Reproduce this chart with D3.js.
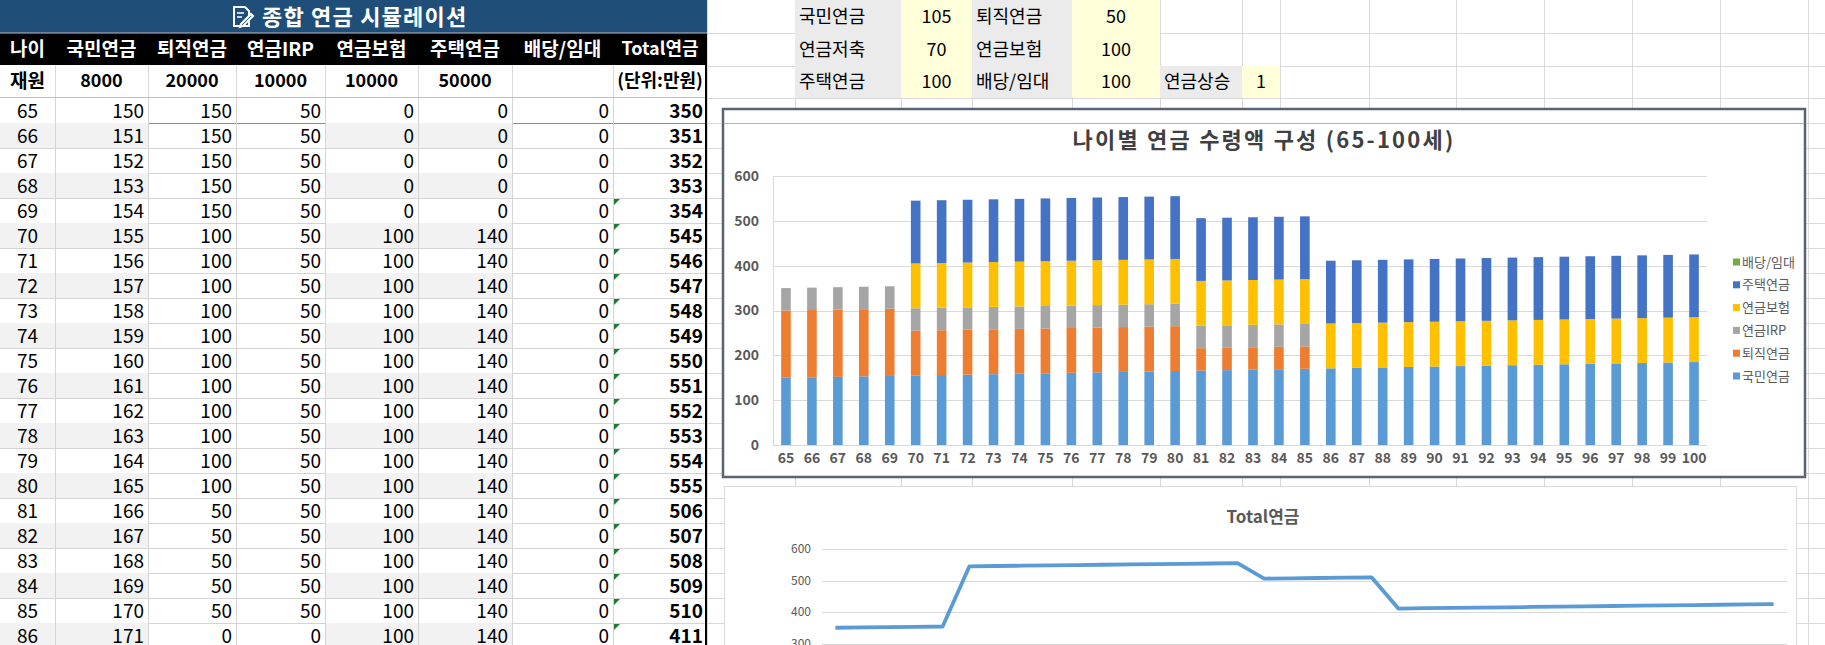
<!DOCTYPE html>
<html>
<head>
<meta charset="utf-8">
<script src="https://cdn.jsdelivr.net/npm/d3@7"></script>
<style>
  body { margin: 0; background: #fff; }
  svg { display: block; font-family: "Noto Sans CJK KR", "Noto Sans", sans-serif; }
</style>
</head>
<body>
<div class="sheet"></div>
<script>
// ---- data ----
const ages     = [65,66,67,68,69,70,71,72,73,74,75,76,77,78,79,80,81,82,83,84,85,86,87,88,89,90,91,92,93,94,95,96,97,98,99,100];
const gukmin   = [150,151,152,153,154,155,156,157,158,159,160,161,162,163,164,165,166,167,168,169,170,171,172,173,174,175,176,177,178,179,180,181,182,183,184,185];
const toejik   = [150,150,150,150,150,100,100,100,100,100,100,100,100,100,100,100,50,50,50,50,50,0,0,0,0,0,0,0,0,0,0,0,0,0,0,0];
const irp      = [50,50,50,50,50,50,50,50,50,50,50,50,50,50,50,50,50,50,50,50,50,0,0,0,0,0,0,0,0,0,0,0,0,0,0,0];
const bohum    = [0,0,0,0,0,100,100,100,100,100,100,100,100,100,100,100,100,100,100,100,100,100,100,100,100,100,100,100,100,100,100,100,100,100,100,100];
const jutaek   = [0,0,0,0,0,140,140,140,140,140,140,140,140,140,140,140,140,140,140,140,140,140,140,140,140,140,140,140,140,140,140,140,140,140,140,140];
const baedang  = [0,0,0,0,0,0,0,0,0,0,0,0,0,0,0,0,0,0,0,0,0,0,0,0,0,0,0,0,0,0,0,0,0,0,0,0];
const total    = [350,351,352,353,354,545,546,547,548,549,550,551,552,553,554,555,506,507,508,509,510,411,412,413,414,415,416,417,418,419,420,421,422,423,424,425];

const headers  = ["나이","국민연금","퇴직연금","연금IRP","연금보험","주택연금","배당/임대","Total연금"];
const funds    = ["재원","8000","20000","10000","10000","50000","","(단위:만원)"];
const seriesKeys = ["국민연금","퇴직연금","연금IRP","연금보험","주택연금","배당/임대"];
const seriesCols = ["#5B9BD5","#ED7D31","#A5A5A5","#FFC000","#4472C4","#70AD47"];
const yTicks   = [0,100,200,300,400,500,600];
const lineTicks = [0,100,200,300,400,500,600];
const params   = [
  [["국민연금",105],["퇴직연금",50]],
  [["연금저축",70],["연금보험",100]],
  [["주택연금",100],["배당/임대",100],["연금상승",1]]
];

const W = 1825, H = 645;
const svg = d3.select(".sheet").append("svg")
  .attr("width", W).attr("height", H);

const gridCol = "#d9d9d9";

// ---- sheet gridlines on the right side ----
const sheetCols = [707,795,901,972,1072,1160,1242,1280,1369,1456,1544,1632,1720,1808];
const sheetRows = [33,66,98];
for (let y = 123; y < H; y += 25) sheetRows.push(y);
const bg = svg.append("g");
sheetRows.forEach(y => bg.append("line").attr("x1",707).attr("x2",W).attr("y1",y+0.5).attr("y2",y+0.5).attr("stroke",gridCol));
sheetCols.forEach(x => bg.append("line").attr("x1",x+0.5).attr("x2",x+0.5).attr("y1",0).attr("y2",H).attr("stroke",gridCol));

// ---- parameter cells (top right) ----
const pCells = [[795,901,972],[972,1072,1160],[1160,1242,1280]]; // label x0, value x0, end
const pRowY = [0,33,66,98];
params.forEach((row,ri) => {
  row.forEach((cell,ci) => {
    const c = pCells[ci];
    bg.append("rect").attr("x",c[0]).attr("y",pRowY[ri]).attr("width",c[1]-c[0]).attr("height",pRowY[ri+1]-pRowY[ri]).attr("fill","#ebebeb");
    bg.append("rect").attr("x",c[1]).attr("y",pRowY[ri]).attr("width",c[2]-c[1]).attr("height",pRowY[ri+1]-pRowY[ri]).attr("fill","#ffffd9");
    const cy = (pRowY[ri]+pRowY[ri+1])/2;
    bg.append("text").attr("x",c[0]+4).attr("y",cy).attr("dy","0.36em")
      .style("font-size","18px").attr("fill","#000").text(cell[0]);
    bg.append("text").attr("x",(c[1]+c[2])/2).attr("y",cy).attr("dy","0.36em")
      .attr("text-anchor","middle").style("font-size","18px").attr("fill","#000").text(cell[1]);
  });
});

// ---- left table ----
const colX = [0,55,148,236,325,418,512,613,707];
const tbl = svg.append("g");
tbl.append("rect").attr("x",0).attr("y",0).attr("width",707).attr("height",33).attr("fill","#1f4e79");
tbl.append("rect").attr("x",0).attr("y",33).attr("width",707).attr("height",32).attr("fill","#000");
tbl.append("line").attr("x1",0).attr("x2",707).attr("y1",33).attr("y2",33).attr("stroke","#bfbfbf");

// title with a small note icon
const icon = tbl.append("g").attr("transform","translate(232,6)").attr("fill","none").attr("stroke","#fff").attr("stroke-width",2);
icon.append("path").attr("d","M2,1 H13 L17,5 V20 H2 Z");
icon.append("path").attr("d","M5,7 H12 M5,11 H10").attr("stroke-width",1.6);
icon.append("path").attr("d","M9,18 L19,8 L21,10 L11,20 L8,21 Z").attr("fill","#1f4e79");
tbl.append("text").attr("x",262).attr("y",17.5).attr("dy","0.36em")
  .style("font-size","22px").style("font-weight","bold").style("letter-spacing","1.2px")
  .attr("fill","#fff").text("종합 연금 시뮬레이션");

headers.forEach((h,i) => {
  tbl.append("text").attr("x",(colX[i]+colX[i+1])/2).attr("y",49).attr("dy","0.36em")
    .attr("text-anchor","middle").style("font-weight","bold")
    .style("font-size", i === 7 ? "18px" : "19px").attr("fill","#fff").text(h);
});

// funds row
for (let i = 1; i < 8; i++) {
  tbl.append("line").attr("x1",colX[i]+0.5).attr("x2",colX[i]+0.5).attr("y1",65).attr("y2",98).attr("stroke",gridCol);
}
funds.forEach((f,i) => {
  tbl.append("text").attr("x",(colX[i]+colX[i+1])/2).attr("y",81).attr("dy","0.36em")
    .attr("text-anchor","middle").style("font-weight","bold")
    .style("font-size", i === 0 ? "19px" : "18px").attr("fill","#000").text(f);
});
tbl.append("line").attr("x1",0).attr("x2",707).attr("y1",97.5).attr("y2",97.5).attr("stroke","#bfbfbf");

// data rows
const rowH = 25, row0 = 98;
const shown = ages.filter(a => a <= 86);
shown.forEach((age,r) => {
  const y = row0 + r*rowH;
  const vals = [age, gukmin[r], toejik[r], irp[r], bohum[r], jutaek[r], baedang[r], total[r]];
  if (r % 2 === 1) {
    [[0,2],[4,6]].forEach(([a,b]) => tbl.append("rect").attr("x",colX[a]).attr("y",y).attr("width",colX[b]-colX[a]).attr("height",rowH).attr("fill","#f2f2f2"));
  }
  tbl.append("line").attr("x1",0).attr("x2",707).attr("y1",y+rowH+0.5).attr("y2",y+rowH+0.5)
    .attr("stroke", r === 0 ? "#8c8c8c" : "#d4d4d4");
  for (let i = 1; i < 8; i++) {
    tbl.append("line").attr("x1",colX[i]+0.5).attr("x2",colX[i]+0.5).attr("y1",y).attr("y2",y+rowH).attr("stroke","#d4d4d4");
  }
  vals.forEach((v,i) => {
    const t = tbl.append("text").attr("y",y+rowH/2+1).attr("dy","0.36em")
      .style("font-size","19px").attr("fill","#000").text(v);
    if (i === 0) t.attr("x",(colX[0]+colX[1])/2).attr("text-anchor","middle");
    else t.attr("x",colX[i+1]-4).attr("text-anchor","end");
    if (i === 7) t.style("font-weight","bold");
  });
  if (age >= 69) {
    tbl.append("path").attr("d",`M${colX[7]+1},${y+1} h6 l-6,6 Z`).attr("fill","#1e7b34");
  }
});
tbl.append("line").attr("x1",706).attr("x2",706).attr("y1",65).attr("y2",H).attr("stroke","#000").attr("stroke-width",2);

// ---- stacked bar chart ----
const c1 = svg.append("g");
c1.append("rect").attr("x",723).attr("y",109).attr("width",1082).attr("height",368)
  .attr("fill","#fff").attr("stroke","#5a6373").attr("stroke-width",2.5);
c1.append("line").attr("x1",724).attr("x2",1804).attr("y1",123.5).attr("y2",123.5).attr("stroke","#b4b4b4");
c1.append("text").attr("x",1264).attr("y",140).attr("dy","0.36em").attr("text-anchor","middle")
  .style("font-size","22px").style("font-weight","bold").style("letter-spacing","2.2px").attr("fill","#404040")
  .text("나이별 연금 수령액 구성 (65-100세)");

const rows = ages.map((a,i) => ({
  age: a, "국민연금": gukmin[i], "퇴직연금": toejik[i], "연금IRP": irp[i],
  "연금보험": bohum[i], "주택연금": jutaek[i], "배당/임대": baedang[i]
}));
const stacked = d3.stack().keys(seriesKeys)(rows);

const x = d3.scaleBand().domain(ages).range([773,1707]).paddingInner(0.63).paddingOuter(0.315);
const y = d3.scaleLinear().domain([0,600]).range([445,176]);

c1.append("g").selectAll("line").data(yTicks).join("line")
  .attr("x1",773).attr("x2",1707)
  .attr("y1",d => Math.round(y(d))+0.5).attr("y2",d => Math.round(y(d))+0.5)
  .attr("stroke",gridCol);
c1.append("line").attr("x1",773.5).attr("x2",773.5).attr("y1",y(600)).attr("y2",y(0)).attr("stroke",gridCol);

c1.append("g").selectAll("g").data(stacked).join("g")
  .attr("fill",(d,i) => seriesCols[i])
  .selectAll("rect").data(d => d).join("rect")
  .attr("x",d => x(d.data.age))
  .attr("width",x.bandwidth())
  .attr("y",d => y(d[1]))
  .attr("height",d => y(d[0]) - y(d[1]));

const yAx = c1.append("g").attr("transform","translate(773,0)")
  .call(d3.axisLeft(y).tickValues(yTicks).tickSize(0).tickPadding(14));
yAx.select(".domain").remove();
yAx.selectAll("text").style("font-size","14px").style("font-weight","bold").attr("fill","#595959")
  .style("font-family","'Noto Sans CJK KR', sans-serif");

const xAx = c1.append("g").attr("transform","translate(0,445)")
  .call(d3.axisBottom(x).tickSize(0).tickPadding(8));
xAx.select(".domain").remove();
xAx.selectAll("text").style("font-size","14px").style("font-weight","bold").attr("fill","#595959")
  .style("font-family","'Noto Sans CJK KR', sans-serif");

// legend (reverse order, top is last series)
const legend = c1.append("g").selectAll("g").data(seriesKeys.slice().reverse()).join("g")
  .attr("transform",(d,i) => `translate(1733,${262 + i*22.8})`);
legend.append("rect").attr("x",0).attr("y",-3.5).attr("width",7).attr("height",7)
  .attr("fill",d => seriesCols[seriesKeys.indexOf(d)]);
legend.append("text").attr("x",9).attr("dy","0.36em").style("font-size","13px").attr("fill","#595959").text(d => d);

// ---- total line chart ----
const c2 = svg.append("g");
c2.append("rect").attr("x",724.5).attr("y",486.5).attr("width",1072).attr("height",200)
  .attr("fill","#fff").attr("stroke",gridCol);
c2.append("text").attr("x",1263).attr("y",517).attr("dy","0.36em").attr("text-anchor","middle")
  .style("font-size","17px").style("font-weight","bold").attr("fill","#595959").text("Total연금");

const x2 = d3.scalePoint().domain(ages).range([822,1787]).padding(0.5);
const y2 = d3.scaleLinear().domain([0,600]).range([738,549]);

c2.append("g").selectAll("line").data(lineTicks).join("line")
  .attr("x1",822).attr("x2",1787)
  .attr("y1",d => Math.round(y2(d))+0.5).attr("y2",d => Math.round(y2(d))+0.5)
  .attr("stroke",gridCol);
const y2Ax = c2.append("g").attr("transform","translate(822,0)")
  .call(d3.axisLeft(y2).tickValues(lineTicks).tickSize(0).tickPadding(11));
y2Ax.select(".domain").remove();
y2Ax.selectAll("text").style("font-size","12px").attr("fill","#595959")
  .style("font-family","'Noto Sans CJK KR', sans-serif");

const line = d3.line().x((d,i) => x2(ages[i])).y(d => y2(d));
c2.append("path").datum(total).attr("fill","none").attr("stroke","#5B9BD5")
  .attr("stroke-width",3.8).attr("stroke-linejoin","round").attr("d",line);
</script>
</body>
</html>
